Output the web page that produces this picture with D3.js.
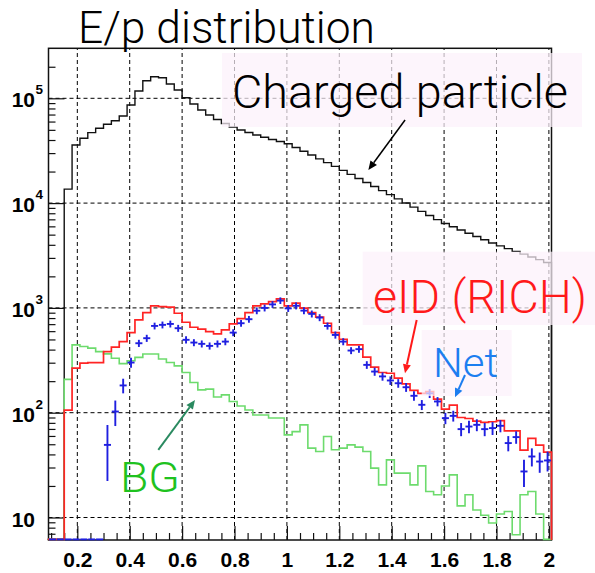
<!DOCTYPE html>
<html><head><meta charset="utf-8">
<script src="https://cdn.jsdelivr.net/npm/d3@7"></script>
<style>html,body{margin:0;padding:0;background:#fff;} svg{display:block;}</style>
</head><body>
<script>
// ---------------- data ----------------
const binEdges = d3.range(65).map(k => +(0.09 + 0.03 * k).toFixed(2)); // 64 bins, 0.09..2.01
const chargedParticle = [0,0,13600,35870,41550,47000,51760,56490,61140,67770,86270,117400,147300,160800,157100,136800,119900,101300,88230,77350,69290,62800,57510,53240,49850,47180,44670,42460,40460,38730,36900,33960,31230,28730,26420,24360,22410,20530,18800,17180,15730,14380,13150,12040,10980,10030,9150,8340,7625,6953,6396,5950,5543,5157,4807,4472,4168,3911,3678,3466,3260,3065,2888,2716];
const eidRich = [0,0,106,266,297,301,301,383,422,477,581,769,902,1044,1029,1016,889,730,654,626,595,565,617,703,790,902,1044,1092,1148,1219,1044,1109,994,902,815,714,581,502,443,443,339,272,242,238,214,188,163,153,159,135,108,118,90,88,83,81,82,84,67,67,44,57,49,42];
const background = [0,0,208,444,428,413,383,364,331,294,313,337,363,363,325,301,280,242,194,165,168,141,148,128,116,106,95,95,89,89,61.5,66,76.6,45.9,42.7,59.3,44.3,45.9,49.3,46.9,42.7,29.6,20.5,35.5,26.5,26.5,20.5,31.1,17.7,16.5,20,25.5,12.9,16.5,11.8,10.5,8.85,10.8,11.4,6.84,16.5,17.7,10.8,0];
const netValues = [0,0,0,0,0,0,0,49.3,102.6,182,301,460,514,673,689,703,640,496,467,454,434,454,477,581,714,780,940,1000,1080,1175,990,1048,942,877,809,673,552,477,392,404,286,247,222,203,191,175,145,119,153,128,88.7,93.3,69.7,73.8,76.6,69.7,71.3,75,51.3,58.5,27.5,38.2,34.2,35];
const netErrors = [0,0,0,0,0,0,0,27,28,29,33,36,40,50,52,53,49,39,36,35,34,35,37,44,53,58,70,75,80,85,75,80,72,67,62,52,43,37,30,31,24,22,20,19,18,17,15,13,15,13,11,11,10,10,10,10,10,10,8.5,8,8,7.5,7.5,7.5];
const xTickValues = [0.2,0.4,0.6,0.8,1.0,1.2,1.4,1.6,1.8,2.0];
const xTickLabels = ["0.2","0.4","0.6","0.8","1","1.2","1.4","1.6","1.8","2"];
const xMinorTicks = d3.range(2, 41).map(k => +(k * 0.05).toFixed(2)).filter(v => !xTickValues.some(t => Math.abs(t - v) < 1e-9));
const yTickExponents = [1,2,3,4,5];
const yMinorTicks = [7,8,9].concat(...[1,2,3,4,5].map(e => [2,3,4,5,6,7,8,9].map(m => m * Math.pow(10, e)))).filter(v => v < 3.0e5);

// annotations (data coordinates)
const annotBoxes = [
  {x0:0.7523, x1:2.1264, yTop:270500, yBot:53230},
  {x0:1.2893, x1:2.176,  yTop:3438,   yBot:686.8},
  {x0:1.5146, x1:1.8581, yTop:615.4,  yBot:144.3}
];
const annotTexts = [
  {text:"Charged particle", x:0.7904, y:80270, color:"#000", size:46, len:336},
  {text:"eID (RICH)", x:1.3286, y:894, color:"#ff1a1a", size:46, len:214},
  {text:"Net", x:1.5577, y:219, color:"#1c7ef0", size:41, len:65},
  {text:"BG", x:0.3629, y:17.6, color:"#1fc21f", size:43, len:60}
];
const annotArrows = [
  {x1:1.451, y1:62070, x2:1.311, y2:20690, color:"#000", w:1.5},
  {x1:1.4954, y1:766, x2:1.4508, y2:237.7, color:"#ff1a1a", w:2},
  {x1:1.6798, y1:229, x2:1.6416, y2:140.3, color:"#1c7ef0", w:2},
  {x1:0.5091, y1:44.1, x2:0.6492, y2:132.2, color:"#2a8a60", w:2}
];

// ---------------- chart ----------------
const W = 595, H = 573;
const svg = d3.select("body").append("svg").attr("width", W).attr("height", H);
const x = d3.scaleLinear().domain([0.09, 2.01]).range([48.5, 551.5]);
const y = d3.scaleLog().domain([6.1, 3.0e5]).range([540, 48.3]);
const [xL, xR] = x.range();
const [Y0, YT] = y.range();
const yc = v => (v > y.domain()[0] ? y(v) : Y0 - 0.6);

// grid
const grid = svg.append("g").attr("stroke", "#000").attr("stroke-width", 1).attr("stroke-dasharray", "4,3");
xTickValues.forEach(v => grid.append("line").attr("x1", x(v)).attr("x2", x(v)).attr("y1", Y0).attr("y2", YT));
yTickExponents.forEach(e => grid.append("line").attr("x1", xL).attr("x2", xR).attr("y1", y(Math.pow(10, e))).attr("y2", y(Math.pow(10, e))));

// axes
const tickFont = "'Liberation Sans', Arial, Helvetica, sans-serif";
const xAxis = svg.append("g").attr("transform", `translate(0,${Y0})`)
  .call(d3.axisBottom(x).tickValues(xTickValues).tickSize(-14).tickPadding(12)
    .tickFormat((d, i) => xTickLabels[i]));
xAxis.select(".domain").remove();
xAxis.selectAll("line").attr("stroke", "#111").attr("stroke-width", 1.2);
xAxis.selectAll("text").attr("font-family", tickFont).attr("font-weight", "bold").attr("font-size", 21).attr("fill", "#000");
const xMinor = svg.append("g").attr("transform", `translate(0,${Y0})`)
  .call(d3.axisBottom(x).tickValues(xMinorTicks).tickSize(-7).tickFormat(""));
xMinor.select(".domain").remove();
xMinor.selectAll("line").attr("stroke", "#111").attr("stroke-width", 1.2);

const yAxis = svg.append("g").attr("transform", `translate(${xL},0)`)
  .call(d3.axisLeft(y).tickValues(yTickExponents.map(e => Math.pow(10, e))).tickSize(-16).tickFormat(""));
yAxis.select(".domain").remove();
yAxis.selectAll("line").attr("stroke", "#111").attr("stroke-width", 1.2);
yAxis.selectAll(".tick").each(function(d, i) {
  const g = d3.select(this);
  const e = yTickExponents[i];
  g.append("text").attr("x", -13.5).attr("y", 8.5).attr("text-anchor", "end")
    .attr("font-family", tickFont).attr("font-weight", "bold").attr("font-size", 21).attr("fill", "#000").text("10");
  if (e > 1) g.append("text").attr("x", -13).attr("y", -4.5).attr("text-anchor", "start")
    .attr("font-family", tickFont).attr("font-weight", "bold").attr("font-size", 13.5).attr("fill", "#000").text(String(e));
});
const yMinor = svg.append("g").attr("transform", `translate(${xL},0)`)
  .call(d3.axisLeft(y).tickValues(yMinorTicks).tickSize(-7).tickFormat(""));
yMinor.select(".domain").remove();
yMinor.selectAll("line").attr("stroke", "#111").attr("stroke-width", 1.2);

// frame
svg.append("rect").attr("x", xL).attr("y", YT).attr("width", xR - xL).attr("height", Y0 - YT)
  .attr("fill", "none").attr("stroke", "#111").attr("stroke-width", 1.5);

// histograms
function histPoints(vals) {
  const pts = [[x(binEdges[0]), Y0]];
  vals.forEach((v, i) => pts.push([x(binEdges[i]), yc(v)]));
  pts.push([x(binEdges[vals.length]), yc(vals[vals.length - 1])]);
  pts.push([x(binEdges[vals.length]), Y0]);
  return pts;
}
const stepLine = d3.line().curve(d3.curveStepAfter);
function drawHist(vals, color, w) {
  svg.append("path").attr("d", stepLine(histPoints(vals))).attr("fill", "none")
    .attr("stroke", color).attr("stroke-width", w).attr("stroke-linejoin", "miter");
}
drawHist(chargedParticle, "#111", 1.4);
drawHist(background, "#6ddb6d", 1.6);
drawHist(eidRich, "#ff2424", 1.7);

// net points with error bars
const netG = svg.append("g").attr("stroke", "#1f1fe0").attr("stroke-width", 1.9);
netValues.forEach((v, i) => {
  const xc = x((binEdges[i] + binEdges[i + 1]) / 2);
  const hw = (x(binEdges[i + 1]) - x(binEdges[i])) / 2 - 0.4;
  const yv = yc(v);
  netG.append("line").attr("x1", xc - hw).attr("x2", xc + hw).attr("y1", yv).attr("y2", yv);
  if (v > 0) {
    const e = netErrors[i];
    netG.append("line").attr("x1", xc).attr("x2", xc).attr("y1", yc(v + e)).attr("y2", yc(v - e));
  }
});

// annotation boxes (translucent)
annotBoxes.forEach(b => svg.append("rect").attr("x", x(b.x0)).attr("y", y(b.yTop))
  .attr("width", x(b.x1) - x(b.x0)).attr("height", y(b.yBot) - y(b.yTop))
  .attr("fill", "#fcf1fb").attr("opacity", 0.72));

// title
const lightFont = "Roboto, 'Liberation Sans', Arial, sans-serif";
svg.append("text").attr("x", 78).attr("y", 43.3).attr("font-family", lightFont).attr("font-weight", 300)
  .attr("font-size", 45).attr("fill", "#000").attr("textLength", 297).attr("lengthAdjust", "spacingAndGlyphs")
  .text("E/p distribution");

annotTexts.forEach(t => svg.append("text").attr("x", x(t.x)).attr("y", y(t.y))
  .attr("font-family", lightFont).attr("font-weight", 300).attr("font-size", t.size).attr("fill", t.color)
  .attr("textLength", t.len).attr("lengthAdjust", "spacingAndGlyphs").text(t.text));

// arrows
annotArrows.forEach(a => {
  const X1 = x(a.x1), Y1 = y(a.y1), X2 = x(a.x2), Y2 = y(a.y2);
  const ang = Math.atan2(Y2 - Y1, X2 - X1);
  const L = 9, Wd = 4;
  const bx = X2 - L * Math.cos(ang), by = Y2 - L * Math.sin(ang);
  svg.append("line").attr("x1", X1).attr("y1", Y1).attr("x2", bx).attr("y2", by)
    .attr("stroke", a.color).attr("stroke-width", a.w);
  svg.append("polygon").attr("points", [
    [X2, Y2],
    [bx + Wd * Math.sin(ang), by - Wd * Math.cos(ang)],
    [bx - Wd * Math.sin(ang), by + Wd * Math.cos(ang)]
  ].map(p => p.join(",")).join(" ")).attr("fill", a.color);
});
</script>
</body></html>
